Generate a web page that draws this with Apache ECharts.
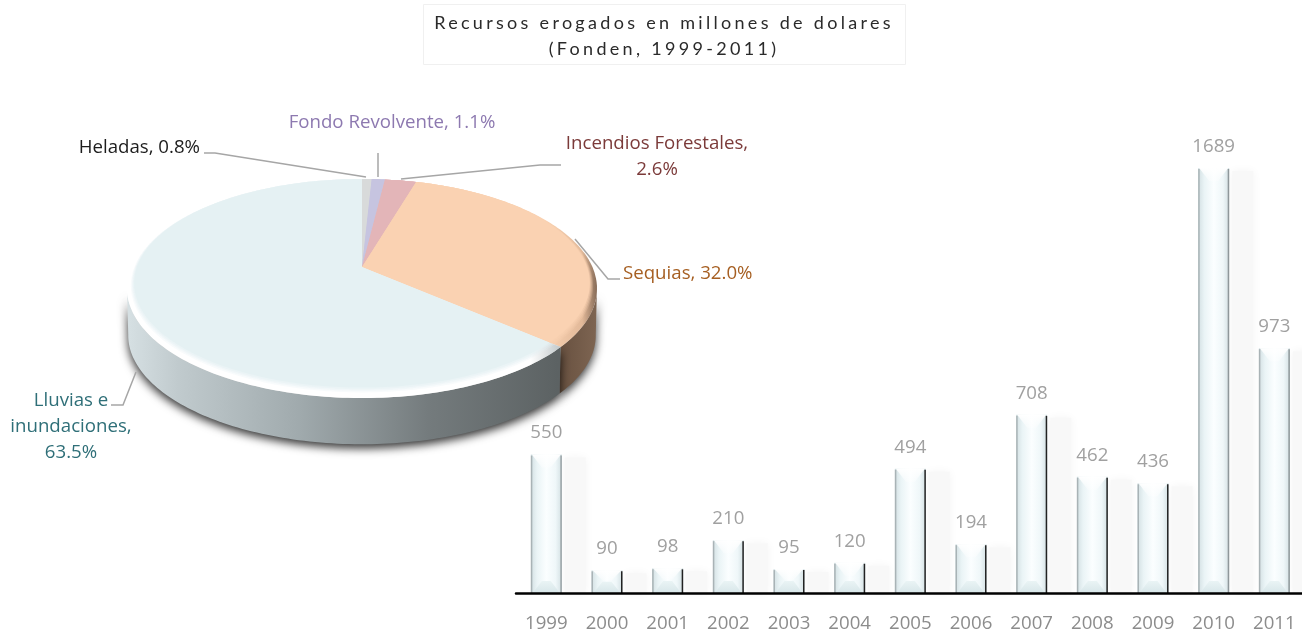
<!DOCTYPE html>
<html><head><meta charset="utf-8">
<style>html,body{margin:0;padding:0;background:#fff}#c{width:1302px;height:631px}</style>
<script src="https://cdn.jsdelivr.net/npm/echarts@6/dist/echarts.min.js"></script>
</head><body><div id="c"></div>
<script>
const titleLines = ['Recursos erogados en millones de dolares', '(Fonden, 1999-2011)'];
const pieNames = ['Heladas', 'Fondo Revolvente', 'Incendios Forestales', 'Sequias', 'Lluvias e inundaciones'];
const pieShares = [0.8, 1.1, 2.6, 32.0, 63.5];
const pieLabels = ['Heladas, 0.8%', 'Fondo Revolvente, 1.1%', 'Incendios Forestales,\n2.6%', 'Sequias, 32.0%', 'Lluvias e\ninundaciones,\n63.5%'];
const years = ['1999','2000','2001','2002','2003','2004','2005','2006','2007','2008','2009','2010','2011'];
const spending = [550, 90, 98, 210, 95, 120, 494, 194, 708, 462, 436, 1689, 973];

// styling and layout
const FONT = '"Open Sans", sans-serif';
const sliceColors = ['#d8dada', '#c6c4e0', '#e3b5b8', '#fad2b2', '#e5f1f3'];
const labelColors = ['#1c1c1c', '#8d79b0', '#7b3a39', '#a65f22', '#2f6f78'];
const edgeColors = ['#9aa3a6','#222','#222','#222','#222','#222','#222','#222','#222','#222','#222','#8f989b','#8f989b'];
const labelPos = [[200,148,'right'], [392,123,'center'], [657,157,'center'], [623,274,'left'], [71,427,'center']];
const leaders = [
  [[204,153],[215,153],[366,177]],
  [[378,153],[378,177]],
  [[561,165],[540,165],[401,179]],
  [[575,239],[608,279],[620,279]],
  [[136,372],[123,405],[111,405]]
];
const P = {x:362, y:267, A:230.4, B:105.3, k:0.1965, depth:47};
const BAR_W = 31;
const SIDE_FROM = 101*Math.PI/180, SIDE_TO = 259*Math.PI/180;

// a point of the tilted disc at a clockwise angle from the top
function disc(theta, r, dy){
  const u = r*Math.sin(theta), v = -r*Math.cos(theta), w = 1 - P.k*v;
  return [P.x + P.A*u/w, P.y + P.B*v/w + (dy||0)];
}
function inset(theta, amount){ return 1 - amount*Math.pow((1 - Math.cos(theta))/2, 1.5); }
function sliceAngles(i){
  const total = pieShares.reduce((a,b)=>a+b,0);
  let s = 0; for(let k=0;k<i;k++) s += pieShares[k];
  return [s/total*2*Math.PI, (s+pieShares[i])/total*2*Math.PI];
}
function arc(a,b,rf,dy){
  const n = Math.max(4,Math.ceil((b-a)/0.02)), pts=[];
  for(let j=0;j<=n;j++){ const t=a+(b-a)*j/n; pts.push(disc(t,rf(t),dy)); }
  return pts;
}
const grad = (x0,y0,x1,y1,stops)=> new echarts.graphic.LinearGradient(x0,y0,x1,y1,stops.map(s=>({offset:s[0],color:s[1]})),true);
const sideFill = i => i===4
  ? grad(127,0,558,0,[[0,'#d6e0e3'],[0.12,'#c0cacd'],[0.4,'#a0aaad'],[0.7,'#747b7d'],[1,'#5c6263']])
  : i===3 ? grad(558,0,597,0,[[0,'#67503f'],[1,'#7e6552']]) : '#888';
const rimFill = i => i===4
  ? grad(440,0,560,0,[[0,'#ffffff'],[0.75,'#ffffff'],[1,'#c2c9cb']])
  : i===3 ? grad(545,0,598,0,[[0,'#fad2b2'],[0.7,'#e2b999'],[1,'#7f6552']]) : sliceColors[i];

function renderSide(params){
  const i = params.dataIndex;
  let [a,b] = sliceAngles(i);
  a = Math.max(a,SIDE_FROM); b = Math.min(b,SIDE_TO);
  if(b<=a) return {type:'group',children:[]};
  const top = arc(a,b,()=>1,0), bot = arc(a,b,()=>0.995,P.depth).reverse();
  return {type:'polygon',shape:{points:top.concat(bot)},
    style:{fill:sideFill(i),shadowBlur:10,shadowColor:'rgba(0,0,0,0.8)',shadowOffsetY:4,shadowOffsetX:0}};
}
function renderTop(params){
  const i = params.dataIndex, [a,b] = sliceAngles(i);
  const kids = [{type:'polygon',z2:1,shape:{points:[[P.x,P.y]].concat(arc(a,b,()=>1,0))},style:{fill:rimFill(i)}}];
  // the bevel fades softly into the flat face
  const steps = [[0.035,0.25],[0.045,0.35],[0.055,0.5],[0.065,1]];
  steps.forEach((s,k)=>kids.push({type:'polygon',z2:2+k,
    shape:{points:[[P.x,P.y]].concat(arc(a,b,t=>inset(t,s[0]),0))},
    style:{fill:sliceColors[i],opacity:s[1]}}));
  return {type:'group',children:kids};
}
function renderLabel(params){
  const i = params.dataIndex, p = labelPos[i];
  return {type:'group',children:[
    {type:'polyline',shape:{points:leaders[i]},style:{fill:'none',stroke:'#a6a6a6',lineWidth:1.5}},
    {type:'text',style:{x:p[0],y:p[1],text:pieLabels[i],align:p[2],verticalAlign:'middle',
      font:'18.67px '+FONT,fill:labelColors[i],lineHeight:26}}
  ]};
}
function barBox(api){
  const c = api.coord([api.value(0),api.value(1)]), base = api.coord([api.value(0),0]);
  return {l:c[0]-BAR_W/2, r:c[0]+BAR_W/2, t:c[1], b:base[1], c:c[0]};
}
function renderBarShadow(params,api){
  const o = barBox(api);
  return {type:'rect',shape:{x:o.r+3,y:o.t+3,width:21,height:o.b-o.t-3},
    style:{fill:'#f8f8f8',shadowBlur:10,shadowColor:'#f4f4f4'}};
}
function renderBevel(params,api){
  const o = barBox(api), i = params.dataIndex;
  const h = Math.min(12,(o.b-o.t)*0.5), cap = Math.min(13,(o.b-o.t)*0.45);
  return {type:'group',children:[
    {type:'polygon',shape:{points:[[o.l+2,o.b],[o.l+11,o.b-h],[o.r-11,o.b-h],[o.r-2,o.b]]},
      style:{fill:grad(0,o.b-h,0,o.b,[[0,'#eaf4f5'],[1,'#d7e6e9']])}},
    {type:'polygon',shape:{points:[[o.l+1,o.t],[o.r-1,o.t],[o.r-11,o.t+cap],[o.l+11,o.t+cap]]},
      style:{fill:grad(0,o.t,0,o.t+cap,[[0,'rgba(255,255,255,1)'],[1,'rgba(255,255,255,0.3)']])}},
    {type:'rect',shape:{x:o.r-1.5,y:o.t+1,width:1.5,height:o.b-o.t-1},style:{fill:edgeColors[i]}},
    {type:'rect',shape:{x:o.l,y:o.t+1,width:1.5,height:o.b-o.t-1},style:{fill:'#a9b3b6'}}
  ]};
}

const spacing = 3.3;
const chart = echarts.init(document.getElementById('c'),null,{renderer:'canvas'});

// The title is spaced out like the reference; canvas letterSpacing is applied for those lines only.
const nativeFillText = CanvasRenderingContext2D.prototype.fillText;
CanvasRenderingContext2D.prototype.fillText = function(text,x,y,mw){
  if(titleLines.indexOf(text)>=0){
    this.letterSpacing = spacing+'px';
    nativeFillText.call(this,text,x,y);
    this.letterSpacing = '0px';
  } else if(mw===undefined) nativeFillText.call(this,text,x,y);
  else nativeFillText.call(this,text,x,y,mw);
};

const pieData = pieShares.map((v,i)=>({name:pieNames[i],value:v}));
chart.setOption({
  animation:false,
  backgroundColor:'#ffffff',
  graphic:[{type:'rect',shape:{x:423.5,y:4.5,width:482,height:60},style:{fill:'none',stroke:'#f0f0f0',lineWidth:1},z:0}],
  title:{
    text:titleLines.join('\n'),left:664,top:5,textAlign:'center',padding:[5,0,5,0],
    textStyle:{fontFamily:'Lato, sans-serif',fontSize:18,fontWeight:400,color:'#2a2a2a',lineHeight:26}
  },
  grid:{left:516,top:168,width:788.7,height:425,outerBoundsMode:'none'},
  xAxis:{type:'category',data:years,z:10,
    axisLine:{lineStyle:{color:'#000',width:2.5}},axisTick:{show:false},
    axisLabel:{color:'#8c8c8c',fontFamily:FONT,fontSize:18.67,margin:21,hideOverlap:false,interval:0}},
  yAxis:{type:'value',min:0,max:1689,show:false},
  series:[
    {type:'custom',renderItem:renderBarShadow,z:1,silent:true,
      data:years.map((y,i)=>[i,spending[i]]),encode:{x:0,y:1}},
    {type:'bar',data:spending,barWidth:BAR_W,z:2,
      itemStyle:{
        color:new echarts.graphic.LinearGradient(0,0,1,0,[
          {offset:0,color:'#d3e0e3'},{offset:0.2,color:'#eaf4f6'},
          {offset:0.5,color:'#fbfeff'},{offset:0.8,color:'#eff7f9'},{offset:1,color:'#d3e0e3'}])
      },
      label:{show:true,position:'top',distance:12,color:'#a0a0a0',fontFamily:FONT,fontSize:18.67}
    },
    {type:'custom',renderItem:renderBevel,z:3,silent:true,
      data:years.map((y,i)=>[i,spending[i]]),encode:{x:0,y:1}},
    {type:'custom',coordinateSystem:'none',renderItem:renderSide,z:4,silent:true,data:pieData},
    {type:'custom',coordinateSystem:'none',renderItem:renderTop,z:5,silent:true,data:pieData},
    {type:'custom',coordinateSystem:'none',renderItem:renderLabel,z:6,silent:true,data:pieData}
  ]
});
</script></body></html>
